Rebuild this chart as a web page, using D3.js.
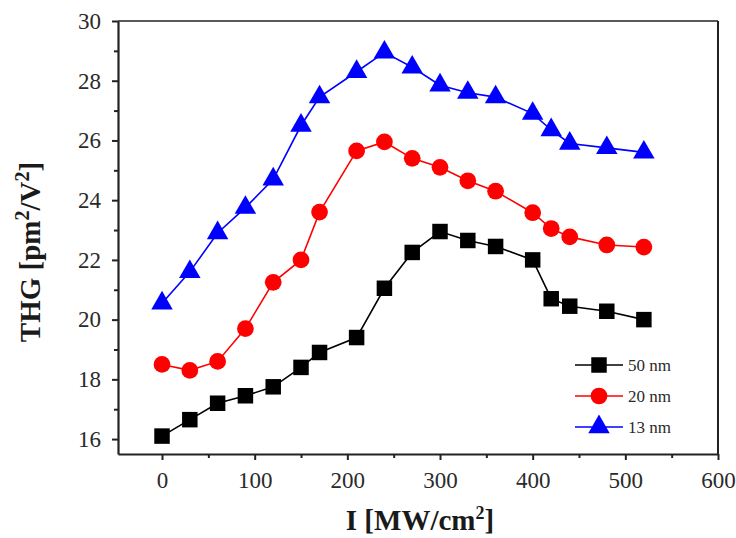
<!DOCTYPE html>
<html>
<head>
<meta charset="utf-8">
<script src="https://cdn.jsdelivr.net/npm/d3@7"></script>
<style>
  body { margin: 0; background: #fff; }
  svg { display: block; }
</style>
</head>
<body>
<div class="chart"></div>
<script>
// intensity values (MW/cm^2)
var intensity = [0, 30, 60, 90, 120, 150, 170, 210, 240, 270, 300, 330, 360, 400, 420, 440, 480, 520];
// THG for each film thickness
var thg50 = [16.1, 16.65, 17.2, 17.45, 17.75, 18.4, 18.9, 19.4, 21.05, 22.25, 22.95, 22.65, 22.45, 22.0, 20.7, 20.45, 20.28, 20.0];
var thg20 = [18.5, 18.3, 18.6, 19.7, 21.25, 22.0, 23.6, 25.65, 25.95, 25.4, 25.1, 24.65, 24.3, 23.58, 23.05, 22.77, 22.5, 22.43];
var thg13 = [20.55, 21.6, 22.9, 23.75, 24.7, 26.5, 27.45, 28.3, 28.95, 28.45, 27.85, 27.6, 27.45, 26.9, 26.35, 25.9, 25.75, 25.6];
var seriesNames = ["50 nm", "20 nm", "13 nm"];
var xTicks = [0, 100, 200, 300, 400, 500, 600];
var yTicks = [16, 18, 20, 22, 24, 26, 28, 30];

var svgWidth = 736, svgHeight = 538;
var plotLeft = 118, plotRight = 718, plotTop = 21, plotBottom = 454;

var svg = d3.select(".chart").append("svg")
    .attr("width", svgWidth)
    .attr("height", svgHeight);

var xScale = d3.scaleLinear().domain([-47.5, 600]).range([plotLeft, plotRight]);
var yScale = d3.scaleLinear().domain([15.5, 30]).range([plotBottom, plotTop]);

var serif = "'Liberation Serif', 'Times New Roman', serif";

// frame: top and right
svg.append("line").attr("x1", plotLeft).attr("x2", plotRight).attr("y1", plotTop).attr("y2", plotTop)
    .attr("stroke", "#222").attr("stroke-width", 1.5);
svg.append("line").attr("x1", plotRight).attr("x2", plotRight).attr("y1", plotTop).attr("y2", plotBottom)
    .attr("stroke", "#222").attr("stroke-width", 2);

// minor ticks
var xMinor = d3.range(50, 600, 100);
var yMinor = d3.range(17, 30, 2);

svg.append("g")
    .attr("transform", `translate(0, ${plotBottom})`)
    .call(d3.axisBottom(xScale).tickValues(xTicks).tickSize(6).tickSizeOuter(0).tickPadding(12));
svg.append("g")
    .attr("transform", `translate(0, ${plotBottom})`)
    .call(d3.axisBottom(xScale).tickValues(xMinor).tickSize(4).tickFormat(""))
    .select(".domain").remove();

svg.append("g")
    .attr("transform", `translate(${plotLeft}, 0)`)
    .call(d3.axisLeft(yScale).tickValues(yTicks).tickSize(6).tickSizeOuter(0).tickPadding(11));
svg.append("g")
    .attr("transform", `translate(${plotLeft}, 0)`)
    .call(d3.axisLeft(yScale).tickValues(yMinor).tickSize(4).tickFormat(""))
    .select(".domain").remove();

svg.selectAll(".domain").attr("stroke", "#222").attr("stroke-width", 2.2);
svg.selectAll(".tick line").attr("stroke", "#222").attr("stroke-width", 2);
svg.selectAll(".tick text")
    .attr("font-family", serif)
    .attr("font-size", "23px")
    .attr("fill", "#2a2a2a");

// axis titles
svg.append("text")
    .attr("x", 420).attr("y", 530)
    .attr("text-anchor", "middle")
    .attr("font-family", serif)
    .attr("font-weight", "bold")
    .attr("font-size", "29px")
    .attr("fill", "#1a1a1a")
    .html("I [MW/cm<tspan font-size='18px' dy='-11'>2</tspan><tspan dy='11'>]</tspan>");

svg.append("text")
    .attr("transform", "translate(40, 252) rotate(-90)")
    .attr("text-anchor", "middle")
    .attr("font-family", serif)
    .attr("font-weight", "bold")
    .attr("font-size", "29px")
    .attr("fill", "#1a1a1a")
    .html("THG [pm<tspan font-size='20px' dy='-11'>2</tspan><tspan dy='11'>/V</tspan><tspan font-size='20px' dy='-11'>2</tspan><tspan dy='11'>]</tspan>");

var series = [
    { name: seriesNames[0], values: thg50, color: "#000000", symbol: d3.symbolSquare, size: 240 },
    { name: seriesNames[1], values: thg20, color: "#ff0000", symbol: d3.symbolCircle, size: 220 },
    { name: seriesNames[2], values: thg13, color: "#0000ff", symbol: d3.symbolTriangle, size: 200 }
];

var line = d3.line()
    .x((d, i) => xScale(intensity[i]))
    .y(d => yScale(d));

series.forEach(function(s) {
    svg.append("path")
        .datum(s.values)
        .attr("d", line)
        .attr("fill", "none")
        .attr("stroke", s.color)
        .attr("stroke-width", 1.6);

    svg.append("g").selectAll("path")
        .data(s.values)
        .enter()
        .append("path")
        .attr("transform", (d, i) => `translate(${xScale(intensity[i])}, ${yScale(d)})`)
        .attr("d", d3.symbol().type(s.symbol).size(s.size))
        .attr("fill", s.color);
});

// legend
var legend = svg.append("g").attr("transform", "translate(575, 365)");
series.forEach(function(s, i) {
    var g = legend.append("g").attr("transform", `translate(0, ${i * 31})`);
    g.append("line").attr("x1", 0).attr("x2", 48).attr("y1", 0).attr("y2", 0)
        .attr("stroke", s.color).attr("stroke-width", 1.6);
    g.append("path")
        .attr("transform", "translate(24, 0)")
        .attr("d", d3.symbol().type(s.symbol).size(s.size))
        .attr("fill", s.color);
    g.append("text")
        .attr("x", 53).attr("y", 6)
        .attr("font-family", serif)
        .attr("font-size", "17px")
        .attr("fill", "#2a2a2a")
        .text(s.name);
});
</script>
</body>
</html>
